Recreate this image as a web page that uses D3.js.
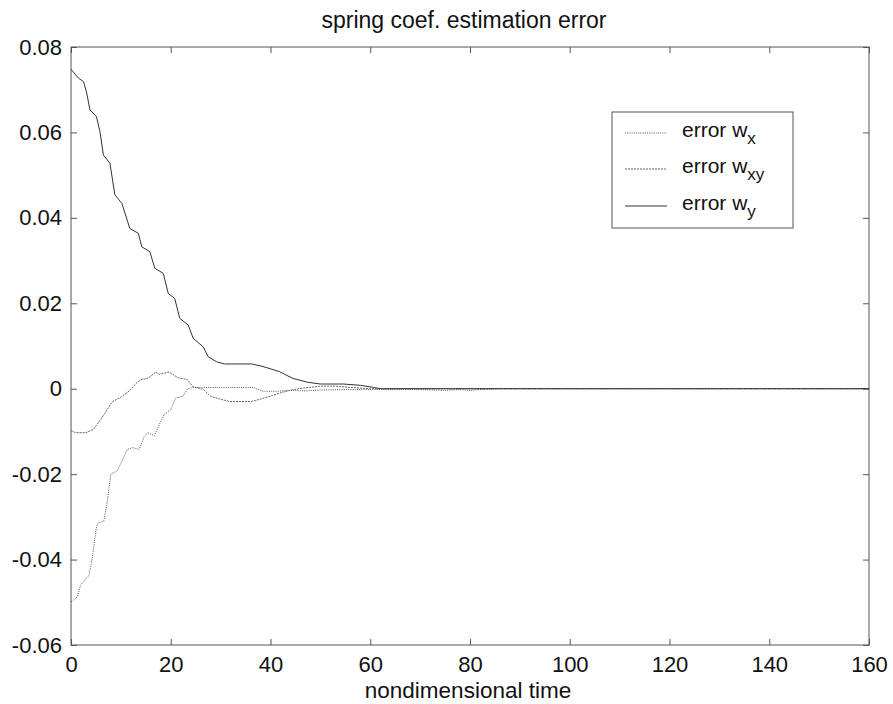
<!DOCTYPE html>
<html lang="en">
<head>
  <meta charset="utf-8">
  <title>spring coef. estimation error</title>
  <script src="https://cdn.jsdelivr.net/npm/d3@7"></script>
  <style>
    body { margin: 0; background: #fff; }
    text { font-family: "Liberation Sans", Arial, Helvetica, sans-serif; fill: #111; }
  </style>
</head>
<body>
<script>

  // error w_y (solid)
  var wyTime = [0, 1.5, 2.5, 3.1, 3.8, 5.1, 5.8, 6.5, 7.8, 8.8, 10.2, 11.8, 13.5, 14.2, 15.8, 16.8, 18.5, 19.5,
    20.8, 21.8, 23.5, 24.5, 26.5, 27.5, 29.2, 30.8, 36.2, 38.5, 41.8, 44.5, 47.5, 50, 54.6, 58, 60.7, 62, 160];
  var wyErr = [0.0748, 0.0727, 0.0719, 0.0695, 0.0653, 0.0637, 0.0602, 0.0547, 0.0528, 0.0454, 0.0434, 0.0375,
    0.0364, 0.0332, 0.0321, 0.0282, 0.027, 0.0223, 0.0211, 0.0165, 0.0149, 0.0118, 0.0098, 0.0075, 0.0063,
    0.0058, 0.0058, 0.0052, 0.004, 0.0024, 0.0015, 0.0011, 0.0011, 0.0008, 0.0003, 0, 0];

  // error w_x (dotted, starts at -0.05)
  var wxTime = [0, 0.3, 1.3, 1.9, 3.6, 4.3, 5.0, 5.3, 6.6, 7.3, 8.0, 9.3, 9.9, 11.3, 12.3, 13.7, 14.7, 15.4,
    16.7, 17.7, 18.7, 20.0, 21.0, 22.4, 23.4, 24.4, 36.5, 38.5, 41, 44, 47, 50, 55, 60, 70, 75, 78, 80, 82, 86, 160];
  var wxErr = [-0.0499, -0.0497, -0.0487, -0.046, -0.0437, -0.0394, -0.0332, -0.0316, -0.0309, -0.0262, -0.02,
    -0.0192, -0.0177, -0.0142, -0.0138, -0.0142, -0.0111, -0.0103, -0.011, -0.0084, -0.006, -0.0049, -0.0022,
    -0.0018, 0.0, 0.0003, 0.0003, -0.0006, -0.0006, -0.0004, -0.0005, -0.0003, -0.0002, -0.0002, -0.0002,
    -0.0004, -0.0002, -0.0004, -0.0002, 0, 0];

  // error w_xy (dotted, starts at -0.01)
  var wxyTime = [0, 1, 3, 4.5, 6.2, 8.3, 10, 11.7, 13, 14, 15.5, 17, 17.6, 19.7, 21.4, 23.4, 24.4, 26.6, 28,
    29.8, 31.8, 36.1, 37.8, 40.4, 42.5, 44.5, 47, 50, 53, 56, 60, 160];
  var wxyErr = [-0.0098, -0.0103, -0.0103, -0.0095, -0.0068, -0.003, -0.002, -0.0005, 0.0012, 0.0021, 0.0025,
    0.0039, 0.0034, 0.0039, 0.0026, 0.0021, 0.0005, -0.0002, -0.0018, -0.0024, -0.003, -0.003, -0.0025,
    -0.0016, -0.0008, -0.0002, 0.0002, 0.0006, 0.0006, 0.0003, 0, 0];

  var xTicks = [0, 20, 40, 60, 80, 100, 120, 140, 160];
  var yTicks = [-0.06, -0.04, -0.02, 0, 0.02, 0.04, 0.06, 0.08];
  var legendSubs = ["x", "xy", "y"];

  var w = 893, h = 704;
  var plotLeft = 71, plotRight = 869, plotTop = 47, plotBottom = 645;

  var svg = d3.select("body").append("svg")
    .attr("width", w)
    .attr("height", h);

  var xScale = d3.scaleLinear().domain([0, 160]).range([plotLeft, plotRight]);
  var yScale = d3.scaleLinear().domain([-0.06, 0.08]).range([plotBottom, plotTop]);

  var yFormat = function (d) {
    return Math.abs(d) < 1e-9 ? "0" : d.toFixed(2);
  };

  // axes, ticks pointing inward
  svg.append("g")
    .attr("transform", "translate(0," + plotBottom + ")")
    .call(d3.axisBottom(xScale).tickValues(xTicks).tickSize(-6).tickPadding(11).tickFormat(d3.format("d")));
  svg.append("g")
    .attr("transform", "translate(0," + plotTop + ")")
    .call(d3.axisTop(xScale).tickValues(xTicks).tickSize(-6).tickFormat(""));
  svg.append("g")
    .attr("transform", "translate(" + plotLeft + ",0)")
    .call(d3.axisLeft(yScale).tickValues(yTicks).tickSize(-6).tickPadding(9).tickFormat(yFormat));
  svg.append("g")
    .attr("transform", "translate(" + plotRight + ",0)")
    .call(d3.axisRight(yScale).tickValues(yTicks).tickSize(-6).tickFormat(""));

  svg.selectAll(".domain").remove();
  svg.selectAll(".tick line").attr("stroke", "#555");
  svg.selectAll(".tick text")
    .attr("font-size", "22px")
    .attr("font-family", "Liberation Sans, Arial, sans-serif")
    .attr("fill", "#111");

  // frame
  svg.append("rect")
    .attr("x", plotLeft)
    .attr("y", plotTop)
    .attr("width", plotRight - plotLeft)
    .attr("height", plotBottom - plotTop)
    .attr("fill", "none")
    .attr("stroke", "#555");

  var line = d3.line()
    .x(function (d) { return xScale(d[0]); })
    .y(function (d) { return yScale(d[1]); });

  var series = [
    { t: wxTime, v: wxErr, dash: "1,1.2", color: "#555" },
    { t: wxyTime, v: wxyErr, dash: "2,1", color: "#666" },
    { t: wyTime, v: wyErr, dash: null, color: "#333" }
  ];

  series.forEach(function (s) {
    svg.append("path")
      .datum(d3.zip(s.t, s.v))
      .attr("d", line)
      .attr("fill", "none")
      .attr("stroke", s.color)
      .attr("stroke-width", 1)
      .attr("stroke-dasharray", s.dash);
  });

  // legend
  var lg = svg.append("g");
  lg.append("rect")
    .attr("x", 612)
    .attr("y", 112)
    .attr("width", 181)
    .attr("height", 116)
    .attr("fill", "#fff")
    .attr("stroke", "#555");

  var rowY = [133, 169, 206];
  series.forEach(function (s, i) {
    lg.append("line")
      .attr("x1", 625).attr("x2", 667)
      .attr("y1", rowY[i]).attr("y2", rowY[i])
      .attr("stroke", s.color)
      .attr("stroke-dasharray", s.dash);
    var t = lg.append("text")
      .attr("x", 682)
      .attr("y", rowY[i] + 4)
      .attr("font-size", "21px");
    t.append("tspan").text("error w");
    t.append("tspan")
      .attr("dy", 7)
      .attr("font-size", "17px")
      .text(legendSubs[i]);
  });

  // title and x label
  svg.append("text")
    .attr("x", 464)
    .attr("y", 28)
    .attr("text-anchor", "middle")
    .attr("font-size", "23px")
    .text("spring coef. estimation error");

  svg.append("text")
    .attr("x", 468)
    .attr("y", 698)
    .attr("text-anchor", "middle")
    .attr("font-size", "22.5px")
    .text("nondimensional time");

</script>
</body>
</html>
